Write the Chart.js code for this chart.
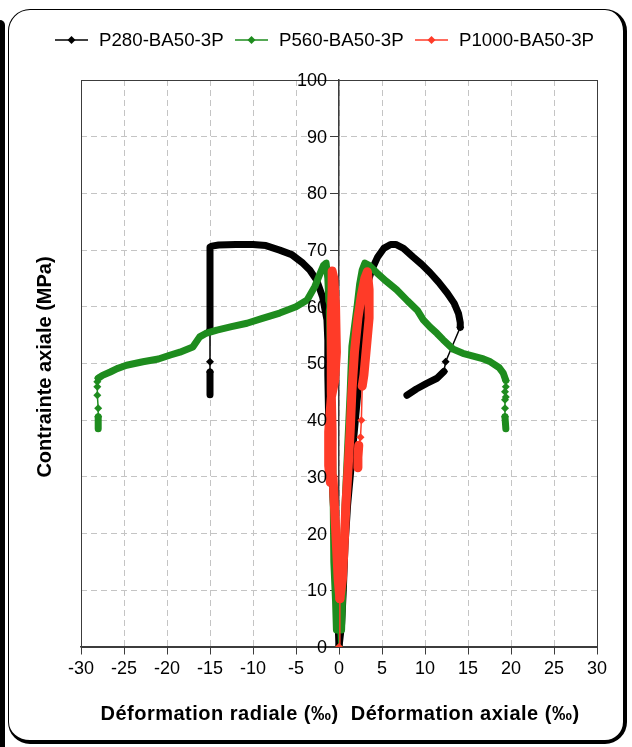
<!DOCTYPE html>
<html><head><meta charset="utf-8">
<script src="https://cdn.jsdelivr.net/npm/chart.js@4/dist/chart.umd.min.js"></script>
<style>
html,body{margin:0;padding:0;background:#fff;width:632px;height:747px;overflow:hidden}
#wrap{position:relative;width:632px;height:747px}
#frame{position:absolute;left:8px;top:9px;width:614px;height:730px;border:1px solid #000;border-right:4px solid #000;border-bottom:4px solid #000;border-radius:22px;box-sizing:content-box}
#bar{position:absolute;left:0;top:20px;width:5px;height:740px;background:#000;border-top-right-radius:6px}
canvas{position:absolute;left:0;top:0}
</style></head>
<body><div id="wrap"><div id="bar"></div><div id="frame"></div><canvas id="c" width="632" height="747"></canvas></div>
<script>
// ---- data (strain ‰, stress MPa) ----
const seriesNames = ['P280-BA50-3P', 'P560-BA50-3P', 'P1000-BA50-3P'];
const xTickValues = [-30,-25,-20,-15,-10,-5,0,5,10,15,20,25,30];
const yTickValues = [0,10,20,30,40,50,60,70,80,90,100];
const xTitle = 'Déformation radiale (‰)  Déformation axiale (‰)';
const yTitle = 'Contrainte axiale (MPa)';

// P280 (black)
const p280Radial = [[0,0],[-0.1,4],[-0.3,10],[-0.5,20],[-0.8,30],[-1.2,40],[-1.3,48],[-1.3,54],[-1.4,57.7],[-1.9,61.7],[-2.6,64.7],[-3.4,66.5],[-4.2,67.7],[-5.5,69.2],[-6.9,70.0],[-8.5,70.8],[-10,71.0],[-12,71.0],[-14,70.9],[-14.8,70.7],[-15,70.5],[-15,66],[-15,62],[-15,58],[-15,56]];
const p280RadialDrop = [[-15,56],[-15,50.3],[-15,48.5]];
const p280RadialEnd = [[-15,48.5],[-15,46.5],[-15,44.5]];
const p280Axial = [[0,0],[0.3,4],[0.5,10],[0.7,18],[1.0,25],[1.3,30],[1.6,35],[1.9,40],[2.2,45],[2.4,52],[2.8,60],[3.3,64],[3.8,66.5],[4.5,68.8],[5.2,70.3],[6.0,71.0],[6.6,71.0],[7.5,70.3],[8.6,68.8],[9.6,67.5],[10.6,66],[11.6,64.3],[12.6,62.4],[13.4,60.6],[13.9,58.8],[14.1,57.2],[14.1,56.4]];
const p280AxialDrop = [[14.1,56.4],[12.4,50.3],[12.2,48.6]];
const p280AxialEnd = [[12.2,48.6],[11.4,47.4],[10.2,46.5],[9.0,45.5],[7.9,44.4]];

// P560 (green)
const p560Start = [[0,0],[-0.1,3]];
const p560Radial = [[-0.3,3],[-0.4,8],[-0.6,15],[-0.7,30],[-0.9,45],[-1.1,58],[-1.3,65],[-1.5,67.7],[-1.8,67.3],[-2.3,65.5],[-2.8,63.6],[-3.7,61.2],[-5,60.0],[-6.9,58.9],[-9,57.9],[-10.7,57.1],[-12.5,56.5],[-14.2,55.9],[-15.5,55.3],[-16.2,54.7],[-17,52.9],[-18.5,52],[-19.6,51.5],[-21,50.8],[-22.8,50.3],[-24.7,49.7],[-25.8,49.1],[-26.6,48.5],[-27.5,47.9],[-28,47.4]];
const p560RadialDrop = [[-28,47.4],[-28.1,46.8],[-28.1,45.9],[-28.1,44.4],[-28,42.1],[-28,40.6]];
const p560RadialEnd = [[-28,40.6],[-28,38.5]];
const p560Axial = [[0.3,3],[0.4,8],[0.5,15],[0.7,25],[1.0,35],[1.3,45],[1.5,53],[2.1,60],[2.4,64],[2.7,66.5],[3.0,67.7],[3.5,67.3],[4.4,66],[5.5,64.5],[6.7,63],[8,61],[9.1,59.4],[9.8,57.7],[10.6,56.4],[11.4,55.3],[12.1,54.2],[13.3,52.5],[14.4,51.8],[15.6,51.3],[16.8,50.8],[17.6,50.3],[18.6,49.3],[19.1,48.3],[19.4,47.0]];
const p560AxialDrop = [[19.4,47.0],[19.4,45.9],[19.3,45.0],[19.4,44.1],[19.3,43.6],[19.3,42.1],[19.3,40.6]];
const p560AxialEnd = [[19.3,40.6],[19.4,38.5]];

// P1000 (red)
const p1000Start = [[0,0],[0.1,8.5]];
const p1000Radial = [[0.1,8.5],[-0.1,12],[-0.3,18],[-0.5,24],[-0.7,30],[-0.8,38],[-0.9,45],[-0.9,52],[-0.9,58],[-0.8,63],[-0.8,66.3],[-0.6,65],[-0.4,60],[-0.3,52],[-0.5,47],[-0.9,44],[-1.2,38],[-1.2,32],[-1.0,29]];
const p1000Axial = [[0.1,8.5],[0.4,12],[0.6,18],[0.8,25],[1.0,30],[1.3,38],[1.5,45],[1.8,52],[2.2,58],[2.6,62],[3.0,65],[3.3,66.2],[3.5,63],[3.5,58],[3.2,53],[2.9,48],[2.7,46]];
const p1000AxialDrop = [[2.7,46],[2.6,40],[2.5,37],[2.3,35.6]];
const p1000AxialEnd = [[2.3,35.6],[2.2,33.5],[2.2,31.6]];

const colors = ['#000000', '#1E8C1E', '#FF3B28'];
const thickWidths = [7, 7, 9];

function ds(pts, ci, kind) {
  const thick = kind === 'thick';
  return {
    label: seriesNames[ci],
    data: pts.map(p => ({x: p[0], y: p[1]})),
    showLine: true,
    borderColor: colors[ci],
    backgroundColor: colors[ci],
    borderWidth: thick ? thickWidths[ci] : 1.5,
    pointRadius: thick ? 0 : 4,
    pointHoverRadius: 0,
    pointStyle: 'rectRot',
    pointBorderWidth: 0,
    borderCapStyle: 'round',
    borderJoinStyle: 'round',
    tension: 0,
    order: 2 - ci
  };
}

const datasets = [
  ds(p280Radial, 0, 'thick'), ds(p280RadialDrop, 0, 'thin'), ds(p280RadialEnd, 0, 'thick'),
  ds(p280Axial, 0, 'thick'), ds(p280AxialDrop, 0, 'thin'), ds(p280AxialEnd, 0, 'thick'),
  ds(p560Start, 1, 'thin'),
  ds(p560Radial, 1, 'thick'), ds(p560RadialDrop, 1, 'thin'), ds(p560RadialEnd, 1, 'thick'),
  ds(p560Axial, 1, 'thick'), ds(p560AxialDrop, 1, 'thin'), ds(p560AxialEnd, 1, 'thick'),
  ds(p1000Start, 2, 'thin'), ds(p1000Radial, 2, 'thick'), ds(p1000Axial, 2, 'thick'),
  ds(p1000AxialDrop, 2, 'thin'), ds(p1000AxialEnd, 2, 'thick')
];

const FONT = '"Liberation Sans", Arial, sans-serif';

const framePlugin = {
  id: 'framePlugin',
  beforeDatasetsDraw(chart) {
    const {ctx, chartArea: a} = chart;
    ctx.save();
    ctx.strokeStyle = '#3c3c3c';
    ctx.lineWidth = 1;
    ctx.strokeRect(Math.round(a.left) + 0.5, Math.round(a.top) + 0.5, Math.round(a.right - a.left), Math.round(a.bottom - a.top));
    ctx.restore();
  },
  afterDraw(chart) {
    const ctx = chart.ctx;
    const xs = chart.scales.x, ys = chart.scales.y;
    ctx.save();
    // y tick labels, to the left of the centred axis
    ctx.font = '18px ' + FONT;
    ctx.fillStyle = '#000';
    ctx.textAlign = 'right';
    ctx.textBaseline = 'middle';
    const ax = xs.getPixelForValue(0);
    yTickValues.forEach(v => ctx.fillText(String(v), ax - 12, ys.getPixelForValue(v) + 1));
    // legend
    const legendX = [55, 235, 415];
    const ly = 40;
    ctx.font = '18.7px ' + FONT;
    ctx.textAlign = 'left';
    seriesNames.forEach((n, i) => {
      const x0 = legendX[i];
      ctx.strokeStyle = colors[i];
      ctx.fillStyle = colors[i];
      ctx.lineWidth = 1.5;
      ctx.beginPath(); ctx.moveTo(x0, ly); ctx.lineTo(x0 + 33, ly); ctx.stroke();
      const cx = x0 + 16.5, r = 4;
      ctx.beginPath(); ctx.moveTo(cx, ly - r); ctx.lineTo(cx + r, ly); ctx.lineTo(cx, ly + r); ctx.lineTo(cx - r, ly); ctx.closePath(); ctx.fill();
      ctx.fillStyle = '#000';
      ctx.fillText(n, x0 + 44, ly + 1);
    });
    // axis titles
    ctx.fillStyle = '#000';
    ctx.font = 'bold 20px ' + FONT;
    ctx.textAlign = 'center';
    ctx.textBaseline = 'middle';
    try { ctx.letterSpacing = '0.5px'; } catch (e) {}
    ctx.fillText(xTitle, 340, 714);
    try { ctx.letterSpacing = '0px'; } catch (e) {}
    ctx.translate(45, 367);
    ctx.rotate(-Math.PI / 2);
    ctx.fillText(yTitle, 0, 0);
    ctx.restore();
  }
};

new Chart(document.getElementById('c'), {
  type: 'scatter',
  data: {datasets},
  plugins: [framePlugin],
  options: {
    responsive: false,
    animation: false,
    events: [],
    layout: {padding: {left: 81, right: 35, top: 80, bottom: 100}},
    plugins: {legend: {display: false}, tooltip: {enabled: false}},
    scales: {
      x: {
        type: 'linear', min: -30, max: 30, position: {y: 0},
        afterBuildTicks: s => { s.ticks = xTickValues.map(v => ({value: v})); },
        ticks: {font: {size: 18, family: FONT}, color: '#000', padding: 4, maxRotation: 0, autoSkip: false},
        grid: {color: '#c4c4c4', lineWidth: 1, tickLength: 7, tickColor: '#3c3c3c', tickWidth: 1, tickBorderDash: []},
        border: {color: '#3c3c3c', width: 1.5, dash: [6, 4]}
      },
      y: {
        type: 'linear', min: 0, max: 100, position: {x: 0},
        afterBuildTicks: s => { s.ticks = yTickValues.map(v => ({value: v})); },
        ticks: {display: false, autoSkip: false},
        grid: {color: '#c4c4c4', lineWidth: 1, tickLength: 8, tickColor: '#3c3c3c', tickWidth: 1, tickBorderDash: []},
        border: {color: '#3c3c3c', width: 1.5, dash: [6, 4]}
      }
    }
  }
});
</script></body></html>
